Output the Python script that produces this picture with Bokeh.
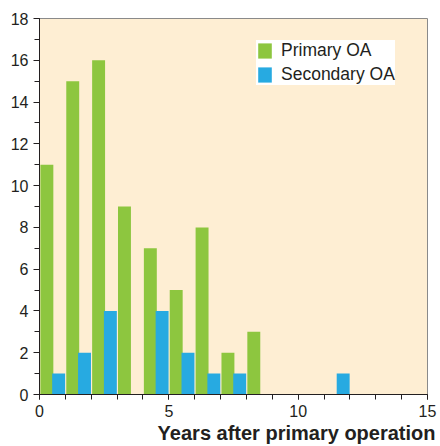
from bokeh.plotting import figure
from bokeh.models import FixedTicker, Range1d, Title, Legend, ColumnDataSource
from bokeh.transform import dodge
from bokeh.embed import file_html
from bokeh.resources import INLINE

# ---- data ----
years = list(range(12))
primary = [11, 15, 16, 9, 7, 5, 8, 2, 3, 0, 0, 0]
secondary = [1, 2, 4, 0, 4, 2, 1, 1, 0, 0, 0, 1]
x_ticks = [0, 5, 10, 15]
x_minor_ticks = list(range(16))
y_ticks = list(range(0, 19, 2))
y_minor_ticks = list(range(19))
x_label = "Years after primary operation"
series_names = ["Primary OA", "Secondary OA"]

GREEN = "#8DC63F"
BLUE = "#27AAE1"
BG = "#FEEED3"
INK = "#231F20"
FONT = "Liberation Sans"

src = ColumnDataSource(dict(year=years, primary=primary, secondary=secondary))

p = figure(width=440, height=446,
           x_range=Range1d(0, 15), y_range=Range1d(0, 18),
           output_backend="svg", toolbar_location=None,
           min_border_left=39, min_border_right=13,
           min_border_top=18, min_border_bottom=52)
p.background_fill_color = BG
p.border_fill_color = "white"
p.grid.visible = False
p.outline_line_color = "#8a8a8a"
p.outline_line_width = 1

r1 = p.vbar(x=dodge("year", 0.285), top="primary", width=0.5, source=src,
            fill_color=GREEN, line_color=None)
r2 = p.vbar(x=dodge("year", 0.74), top="secondary", width=0.5, source=src,
            fill_color=BLUE, line_color=None)

xa = p.xaxis[0]
xa.ticker = FixedTicker(ticks=x_ticks, minor_ticks=x_minor_ticks)
xa.major_tick_in = 0
xa.major_tick_out = 5
xa.minor_tick_in = 0
xa.minor_tick_out = 5
xa.axis_line_color = INK
xa.major_tick_line_color = INK
xa.minor_tick_line_color = INK
xa.major_label_text_font = FONT
xa.major_label_text_font_size = "16px"
xa.major_label_text_color = INK
xa.major_label_standoff = 5

ya = p.yaxis[0]
ya.ticker = FixedTicker(ticks=y_ticks, minor_ticks=y_minor_ticks)
ya.major_tick_in = 0
ya.major_tick_out = 6
ya.minor_tick_in = 0
ya.minor_tick_out = 5
ya.axis_line_color = INK
ya.major_tick_line_color = INK
ya.minor_tick_line_color = INK
ya.major_label_text_font = FONT
ya.major_label_text_font_size = "16px"
ya.major_label_text_color = INK
ya.major_label_standoff = 5

t = Title(text=x_label, align="right", offset=-8, standoff=0,
          text_font=FONT, text_font_size="20px", text_font_style="bold",
          text_color=INK)
p.add_layout(t, "below")

legend = Legend(items=[(series_names[0], [r1]), (series_names[1], [r2])],
                location=(217, 309), margin=0, padding=9, spacing=3,
                glyph_width=17, glyph_height=19, label_height=19,
                label_standoff=8,
                label_text_font=FONT, label_text_font_size="17.5px",
                label_text_color=INK,
                background_fill_color="white", background_fill_alpha=1.0,
                border_line_color=None)
p.add_layout(legend)

open("out.html", "w").write(file_html(p, INLINE))
